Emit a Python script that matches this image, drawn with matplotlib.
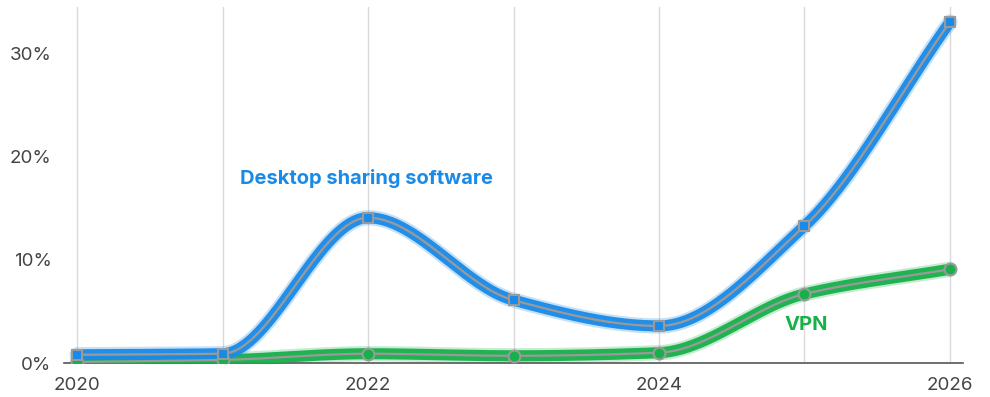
import numpy as np
import matplotlib
matplotlib.use("Agg")
import matplotlib.pyplot as plt

years = [2020, 2021, 2022, 2023, 2024, 2025, 2026]
desktop_sharing = [0.8, 0.9, 14.1, 6.1, 3.6, 13.3, 33.1]
vpn = [0.1, 0.3, 0.9, 0.7, 1.0, 6.7, 9.1]
y_ticks = [0, 10, 20, 30]
y_tick_labels = ["0%", "10%", "20%", "30%"]
x_ticks = [2020, 2022, 2024, 2026]
series_labels = ["Desktop sharing software", "VPN"]

BLUE = "#1a8ae8"
GREEN = "#18b04a"
GRAY = "#9a9a9a"

plt.rcParams['font.family'] = ['Inter', 'DejaVu Sans']


def monotone(x, y, n=400):
    x = np.asarray(x, float)
    y = np.asarray(y, float)
    h = np.diff(x)
    d = np.diff(y) / h
    m = np.zeros_like(y)
    m[0] = d[0]
    m[-1] = d[-1]
    for i in range(1, len(y) - 1):
        if d[i - 1] * d[i] <= 0:
            m[i] = 0
        else:
            m[i] = 3 * (h[i - 1] + h[i]) / ((2 * h[i] + h[i - 1]) / d[i - 1] + (h[i] + 2 * h[i - 1]) / d[i])
    xs = np.linspace(x[0], x[-1], n)
    idx = np.clip(np.searchsorted(x, xs) - 1, 0, len(x) - 2)
    t = (xs - x[idx]) / h[idx]
    h00 = 2 * t**3 - 3 * t**2 + 1
    h10 = t**3 - 2 * t**2 + t
    h01 = -2 * t**3 + 3 * t**2
    h11 = t**3 - t**2
    ys = h00 * y[idx] + h10 * h[idx] * m[idx] + h01 * y[idx + 1] + h11 * h[idx] * m[idx + 1]
    return xs, ys


fig = plt.figure(figsize=(9.9, 3.97), dpi=100)
ax = fig.add_axes([64 / 990, 34 / 397, (963 - 64) / 990, (390 - 34) / 397])
ax.set_xlim(2019.91, 2026.09)
ax.set_ylim(0, 34.56)

for yr in years:
    ax.axvline(yr, color="#d9d9d9", lw=1, zorder=0)

for vals, col, marker, ms in [(vpn, GREEN, "o", 8.5), (desktop_sharing, BLUE, "s", 7.5)]:
    xs, ys = monotone(years, vals)
    ax.plot(xs, ys, color=col, lw=11, alpha=0.25, solid_capstyle="round", zorder=2)
    ax.plot(xs, ys, color=col, lw=8, alpha=0.95, solid_capstyle="round", zorder=3)
    ax.plot(xs, ys, color=GRAY, lw=1.6, zorder=4)
    ax.plot(years, vals, linestyle="none", marker=marker, ms=ms, mfc=col, mec=GRAY, mew=1.5, zorder=5)

ax.text(2021.12, 17.4, series_labels[0], color=BLUE, fontsize=14.5, fontweight="bold",
        ha="left", va="baseline")
ax.text(2024.86, 3.2, series_labels[1], color=GREEN, fontsize=14.5, fontweight="bold",
        ha="left", va="baseline")

for s in ["top", "right", "left"]:
    ax.spines[s].set_visible(False)
ax.spines["bottom"].set_color("#555555")
ax.spines["bottom"].set_linewidth(1.2)

ax.set_yticks(y_ticks)
ax.set_yticklabels(y_tick_labels)
ax.set_xticks(x_ticks)
ax.set_xticklabels([str(v) for v in x_ticks])
ax.tick_params(axis="both", length=0, labelsize=13.5, labelcolor="#444444")
ax.tick_params(axis="y", pad=9)
ax.tick_params(axis="x", pad=10)

fig.savefig("out.png", dpi=100)
